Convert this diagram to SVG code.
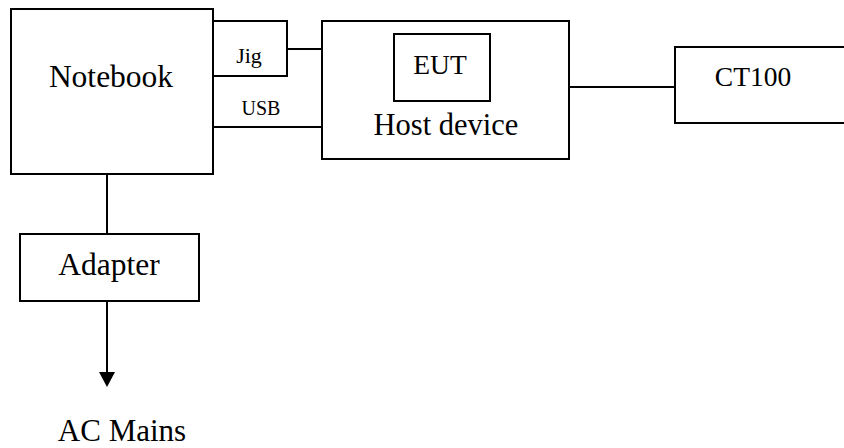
<svg xmlns="http://www.w3.org/2000/svg" width="844" height="448" viewBox="0 0 844 448">
<style>
.box{fill:#fff;stroke:#000;stroke-width:2}
.ln{fill:none;stroke:#000;stroke-width:2}
text{font-family:"Liberation Serif","Times New Roman",serif;fill:#000;text-anchor:middle}
</style>
<rect width="844" height="448" fill="#fff"/>
<g id="connectors">
<line class="ln" x1="287" y1="49" x2="322" y2="49"/>
<line class="ln" x1="213" y1="127" x2="322" y2="127"/>
<line class="ln" x1="569" y1="87" x2="675" y2="87"/>
<line class="ln" x1="107" y1="175" x2="107" y2="234"/>
<line class="ln" x1="107" y1="301" x2="107" y2="372"/>
<path d="M99,372 L115,372 L107,387 Z" fill="#000"/>
<text x="261" y="115" font-size="20">USB</text>
</g>
<g id="notebook">
<rect class="box" x="11" y="9" width="202" height="165"/>
<text x="111" y="87" font-size="31.5">Notebook</text>
</g>
<g id="jig">
<rect class="box" x="213" y="21" width="74" height="55"/>
<text x="249" y="63" font-size="22">Jig</text>
</g>
<g id="host">
<rect class="box" x="322" y="21" width="247" height="138"/>
<text x="446" y="135" font-size="30.5">Host device</text>
</g>
<g id="eut">
<rect class="box" x="394" y="34" width="96" height="67"/>
<text x="440" y="74" font-size="27.5">EUT</text>
</g>
<g id="ct100">
<rect class="box" x="675" y="47" width="180" height="76"/>
<text x="753" y="86" font-size="27.5">CT100</text>
</g>
<g id="adapter">
<rect class="box" x="20" y="234" width="179" height="67"/>
<text x="109" y="275" font-size="31.5">Adapter</text>
</g>
<g id="acmains">
<text x="122" y="441" font-size="31">AC Mains</text>
</g>
</svg>
